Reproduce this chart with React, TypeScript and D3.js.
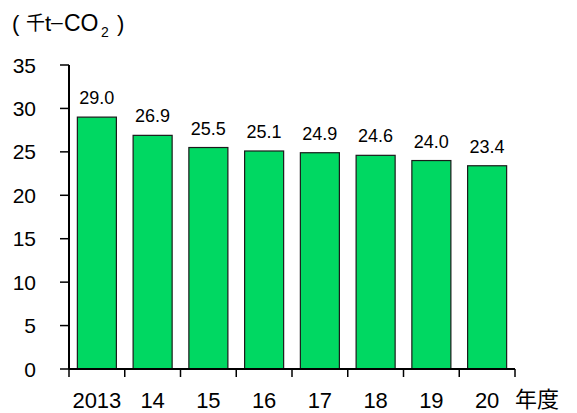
import React from "react";
import * as d3 from "d3";

const categories = ["2013", "14", "15", "16", "17", "18", "19", "20"];
const values = [29.0, 26.9, 25.5, 25.1, 24.9, 24.6, 24.0, 23.4];
const yTicks = [0, 5, 10, 15, 20, 25, 30, 35];

export default function App() {
  const W = 577, H = 413;
  const left = 69, right = 515, top = 65, bottom = 369;
  const x = d3.scaleBand().domain(categories).range([left, right]).paddingInner(0.3).paddingOuter(0.15);
  const xb = d3.scaleBand().domain(categories).range([left, right]);
  const y = d3.scaleLinear().domain([0, 35]).range([bottom, top]);
  const font = "'Liberation Sans', Arial, 'Noto Sans CJK JP', sans-serif";
  const cjk = "'Noto Sans CJK JP', sans-serif";
  return (
    <svg width={W} height={H} style={{ position: "absolute", left: 0, top: 0 }} fontFamily={font}>
      <rect width={W} height={H} fill="#fff" />
      <g fill="#000">
        <text x={12} y={31} fontSize={22}>(</text>
        <text x={26} y={30} fontSize={19} fontFamily={cjk}>千</text>
        <text x={45} y={31} fontSize={22}>t</text>
        <text x={51} y={29} fontSize={21}>–</text>
        <text x={64} y={31} fontSize={23}>CO</text>
        <text x={101} y={37} fontSize={14}>2</text>
        <text x={117} y={31} fontSize={22}>)</text>
      </g>
      {values.map((v, i) => (
        <g key={i}>
          <rect x={x(categories[i])!} y={y(v)} width={x.bandwidth()} height={bottom - y(v)}
            fill="#00D862" stroke="#1a1a1a" strokeWidth={1.2} />
          <text x={x(categories[i])! + x.bandwidth() / 2} y={y(v) - 13} textAnchor="middle" fontSize={18} fill="#000">
            {v.toFixed(1)}
          </text>
        </g>
      ))}
      <line x1={left} x2={left} y1={top} y2={bottom} stroke="#000" strokeWidth={2} />
      <line x1={left} x2={right} y1={bottom} y2={bottom} stroke="#000" strokeWidth={2} />
      {yTicks.map((t) => (
        <g key={t}>
          <line x1={left - 9} x2={left} y1={y(t)} y2={y(t)} stroke="#000" strokeWidth={1.5} />
          <text x={36} y={y(t) + 7.5} textAnchor="end" fontSize={21} fill="#000">{t}</text>
        </g>
      ))}
      {[...categories.map((c) => xb(c)!), right].map((px, i) => (
        <line key={i} x1={px} x2={px} y1={bottom} y2={bottom + 8} stroke="#000" strokeWidth={1.5} />
      ))}
      {categories.map((c) => (
        <text key={c} x={xb(c)! + xb.bandwidth() / 2} y={408} textAnchor="middle" fontSize={22} fill="#000">{c}</text>
      ))}
      <text x={515} y={407} fontSize={22} fontFamily={cjk} fill="#000">年度</text>
    </svg>
  );
}
